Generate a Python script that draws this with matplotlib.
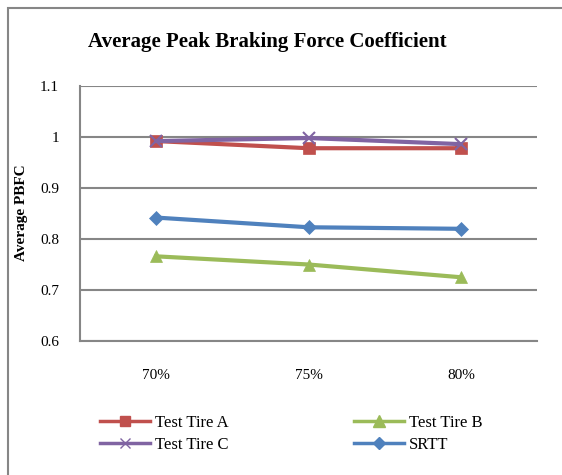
import matplotlib.pyplot as plt
from matplotlib.patches import Rectangle
from matplotlib.lines import Line2D

categories = ["70%", "75%", "80%"]
tire_a = [0.992, 0.978, 0.978]
tire_b = [0.766, 0.750, 0.725]
tire_c = [0.992, 0.998, 0.986]
srtt = [0.842, 0.823, 0.820]
y_ticks = [0.6, 0.7, 0.8, 0.9, 1.0, 1.1]
y_tick_labels = ["0.6", "0.7", "0.8", "0.9", "1", "1.1"]

plt.rcParams['font.family'] = ['Liberation Serif', 'DejaVu Serif']

W, H = 562, 475
fig = plt.figure(figsize=(W / 100, H / 100), dpi=100)

# outer chart frame (left and top edges visible)
fig.patches.append(Rectangle((8 / W, -0.1), 1.2, 1.1 - 8 / H,
                             transform=fig.transFigure, fill=False,
                             edgecolor="#868686", linewidth=1.5))

ax = fig.add_axes([80 / W, 1 - 341 / H, (537 - 80) / W, (341 - 86) / H])
x = list(range(len(categories)))

series = {
    "Test Tire A": (tire_a, "#C0504D", "s", 8),
    "Test Tire B": (tire_b, "#9BBB59", "^", 9),
    "Test Tire C": (tire_c, "#8064A2", "x", 8),
    "SRTT": (srtt, "#4F81BD", "D", 7),
}
handles = {}
for name, (vals, color, marker, ms) in series.items():
    ax.plot(x, vals, color=color, linewidth=3, marker=marker, markersize=ms,
            markeredgewidth=1.5 if marker == "x" else 0.5, markeredgecolor=color,
            zorder=3)
    handles[name] = Line2D([], [], color=color, linewidth=2.5, marker=marker,
                           markersize=ms - 1, markeredgecolor=color, label=name)

ax.set_xlim(-0.5, 2.5)
ax.set_ylim(0.6, 1.1)
ax.set_yticks(y_ticks)
ax.set_yticklabels(y_tick_labels, fontsize=11)
ax.set_xticks(x)
ax.set_xticklabels(categories, fontsize=11)
ax.tick_params(length=0)
ax.tick_params(axis="y", pad=15)
ax.tick_params(axis="x", pad=20)
ax.grid(axis="y", color="#868686", linewidth=1.5)
ax.set_axisbelow(True)
for side in ["top", "right"]:
    ax.spines[side].set_visible(False)
for side in ["left", "bottom"]:
    ax.spines[side].set_color("#868686")
    ax.spines[side].set_linewidth(1.5)

fig.text(22 / W, 1 - 213 / H, "Average PBFC", rotation=90, fontsize=11,
         fontweight="bold", ha="center", va="center")
fig.text(267 / W, 1 - 42 / H, "Average Peak Braking Force Coefficient",
         fontsize=15, fontweight="bold", ha="center", va="center")

# legend fills column-wise, so order gives rows A|B and C|SRTT
order = ["Test Tire A", "Test Tire C", "Test Tire B", "SRTT"]
fig.legend(handles=[handles[n] for n in order], loc="upper left",
           bbox_to_anchor=(85 / W, 1 - 400 / H),
           ncol=2, frameon=False, fontsize=12, handlelength=3.0,
           columnspacing=7.5, labelspacing=0.35, handletextpad=0.3)

fig.savefig("out.png", dpi=100)
